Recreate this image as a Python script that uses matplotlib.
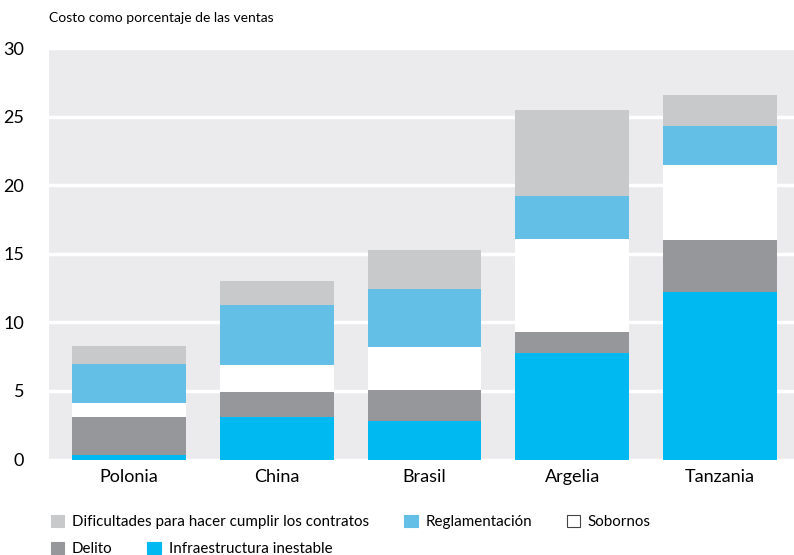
import numpy as np
import matplotlib.pyplot as plt
from matplotlib.patches import Patch

plt.rcParams['font.family'] = ['Lato', 'DejaVu Sans']

paises = ['Polonia', 'China', 'Brasil', 'Argelia', 'Tanzania']

# segment heights, bottom to top
infraestructura = [0.3, 3.1, 2.8, 7.8, 12.2]
delito = [2.8, 1.8, 2.3, 1.5, 3.8]
sobornos = [1.0, 2.0, 3.1, 6.8, 5.5]
reglamentacion = [2.9, 4.4, 4.2, 3.1, 2.8]
dificultades = [1.25, 1.7, 2.9, 6.3, 2.3]

series = [
    ('Infraestructura inestable', infraestructura, '#00b9f1'),
    ('Delito', delito, '#96979b'),
    ('Sobornos', sobornos, '#ffffff'),
    ('Reglamentación', reglamentacion, '#63bfe5'),
    ('Dificultades para hacer cumplir los contratos', dificultades, '#c8c9cb'),
]

fig = plt.figure(figsize=(7.94, 5.55), dpi=100)
ax = fig.add_axes([0.0617, 0.172, 0.9383, 0.7415])
ax.set_facecolor('#ebebee')

x = np.arange(len(paises))
bottom = np.zeros(len(paises))
for name, vals, col in series:
    ax.bar(x, vals, bottom=bottom, width=0.77, color=col, zorder=3, linewidth=0)
    bottom += np.array(vals)

ax.set_ylim(0, 30)
ax.set_xlim(-0.54, 4.5)
ax.set_yticks(range(0, 31, 5))
ax.set_xticks(x)
ax.set_xticklabels(paises, fontsize=13)
ax.tick_params(axis='y', length=0, labelsize=13, pad=18)
ax.tick_params(axis='x', length=0, pad=7)
ax.yaxis.grid(True, color='white', linewidth=2.5, zorder=1)
ax.set_axisbelow(True)
for s in ax.spines.values():
    s.set_visible(False)

fig.text(0.0617, 0.968, 'Costo como porcentaje de las ventas', fontsize=10,
         va='center', ha='left')

def handle(col):
    ec = '#444444' if col == '#ffffff' else col
    return Patch(facecolor=col, edgecolor=ec, linewidth=0.8)

row1 = [series[4], series[3], series[2]]
row2 = [series[1], series[0]]
for row, yy in [(row1, 0.0595), (row2, 0.0105)]:
    fig.legend([handle(c) for _, _, c in row], [n for n, _, _ in row],
               loc='center left', bbox_to_anchor=(0.064, yy), ncol=len(row),
               frameon=False, fontsize=10.9, handlelength=0.9, handleheight=0.9,
               handletextpad=0.5, columnspacing=2.3, borderpad=0, borderaxespad=0)

fig.savefig('out.png', dpi=100)
